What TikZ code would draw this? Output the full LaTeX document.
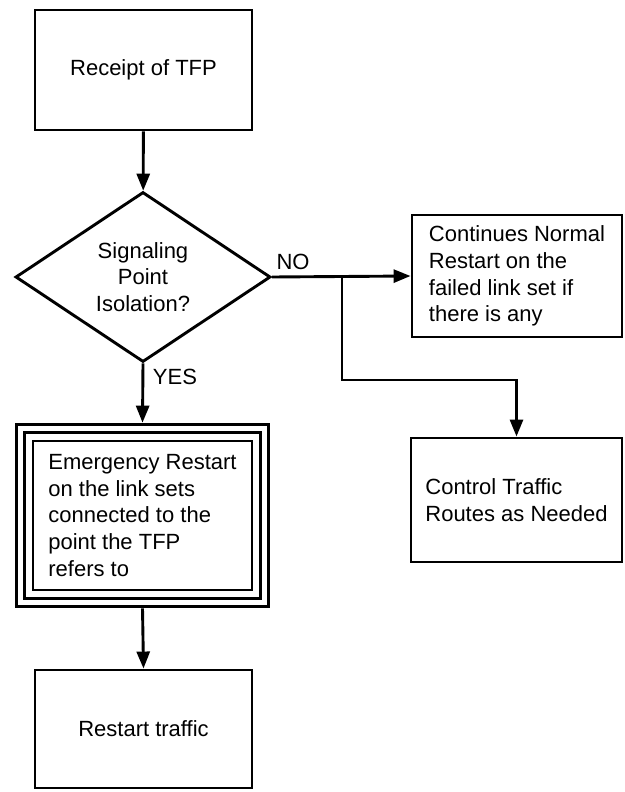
\documentclass[tikz,border=0pt]{standalone}
\usepackage{fontspec}
\setmainfont{Liberation Sans}
\usetikzlibrary{arrows.meta,shapes.geometric,fit}
\begin{document}
\begin{tikzpicture}[x=1pt,y=-1pt,
    every node/.style={font=\fontsize{22}{26.7}\selectfont},
    box/.style={draw,line width=2.9pt,align=left,inner sep=0pt},
    decision/.style={draw,line width=2.9pt,diamond,aspect=1.5,inner sep=0pt,align=center},
    frame/.style={draw,line width=2.9pt,inner sep=7pt},
    flow/.style={line width=2.9pt,-{Triangle[length=17pt,width=13pt]}},
    lbl/.style={inner sep=0pt}]
  \useasboundingbox (0,0) rectangle (624,792);
  \node[box,minimum width=217pt,minimum height=120pt] (receipt) at (143.5,70) {Receipt of TFP};
  \node[decision,minimum width=255pt,minimum height=170pt] (isolation) at (143,277) {Signaling\\Point\\Isolation?};
  \node[box,minimum width=210pt,minimum height=122pt] (normal) at (517,276)
    {Continues Normal\\Restart on the\\failed link set if\\there is any};
  \node[box,minimum width=211pt,minimum height=124pt] (routes) at (516.5,500)
    {Control Traffic\\Routes as Needed};
  \node[box,minimum width=219pt,minimum height=149pt] (emergency) at (142.5,515.5)
    {Emergency Restart\\on the link sets\\connected to the\\point the TFP\\refers to};
  \node[frame,fit=(emergency)] (emergencymid) {};
  \node[frame,fit=(emergencymid)] (emergencyout) {};
  \node[box,minimum width=217pt,minimum height=118pt] (restart) at (143.5,729) {Restart traffic};
  \node[lbl] (no) at (293,262) {NO};
  \node[lbl] (yes) at (175,377) {YES};
  \coordinate (split) at (342,277);
  \coordinate (bend) at (342,380);
  \draw[flow] (receipt) -- (isolation);
  \draw[flow] (isolation.east) -- (normal.west);
  \draw[flow] (split) -- (bend) -| (routes.north);
  \draw[flow] (isolation.south) -- (emergencyout.north);
  \draw[flow] (emergencyout.south) -- (restart.north);
\end{tikzpicture}
\end{document}
